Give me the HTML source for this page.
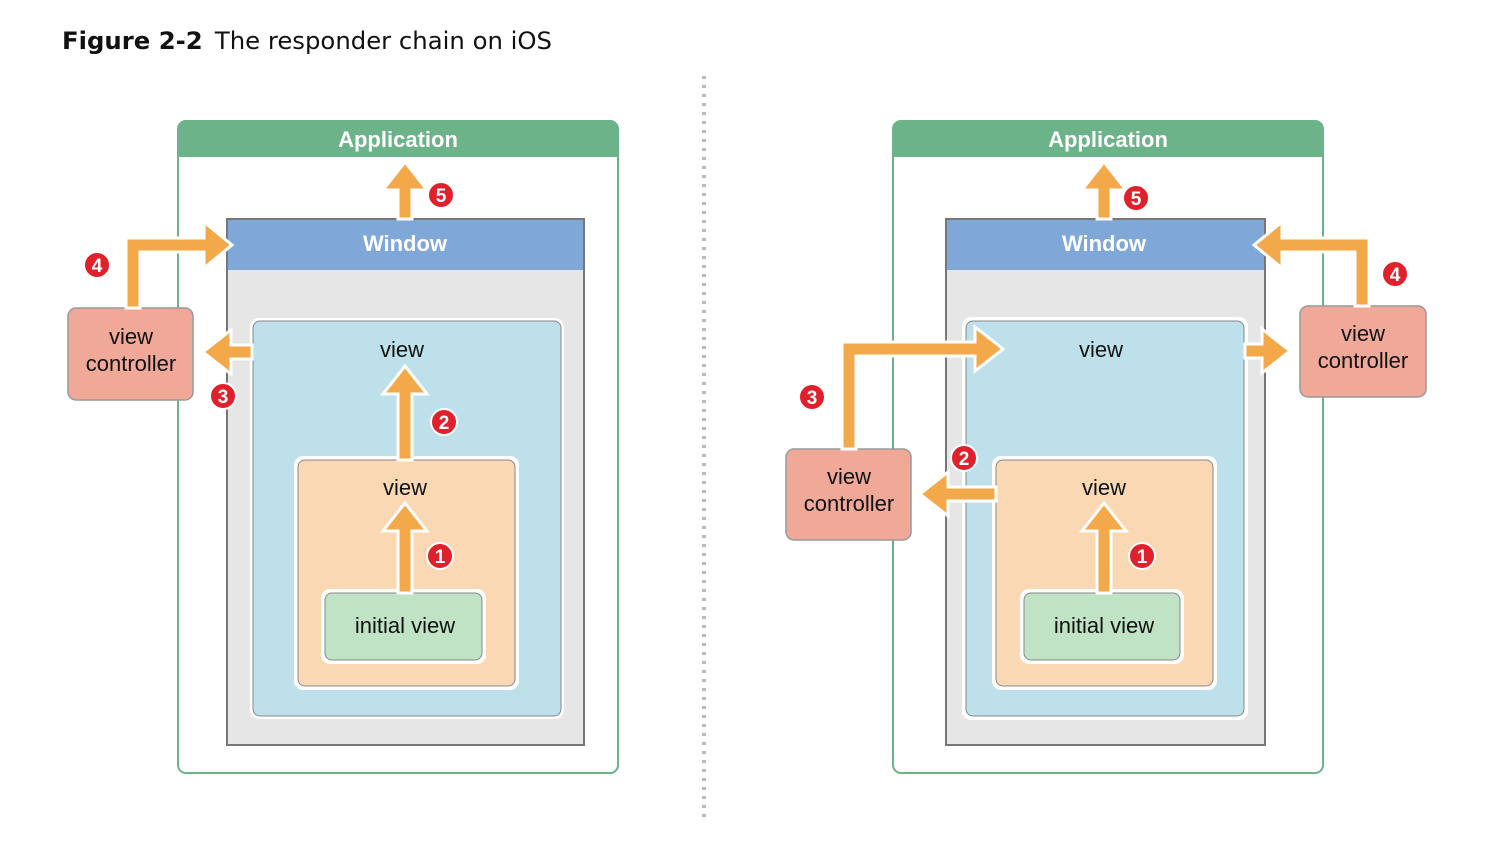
<!DOCTYPE html>
<html><head><meta charset="utf-8"><style>
body{margin:0;background:#fff;}
svg{display:block;font-family:"Liberation Sans",sans-serif;}
</style></head><body>
<svg width="1500" height="855" viewBox="0 0 1500 855" xmlns="http://www.w3.org/2000/svg">
<text x="62" y="49" font-size="24" font-family="DejaVu Sans, sans-serif" fill="#111" textLength="490" lengthAdjust="spacingAndGlyphs"><tspan font-weight="bold">Figure 2-2</tspan><tspan dx="12">The responder chain on iOS</tspan></text>
<line x1="704" y1="76" x2="704" y2="820" stroke="#bbb" stroke-width="4" stroke-dasharray="3,6"/>

<!-- LEFT -->
<rect x="178" y="121" width="440" height="652" rx="8" fill="#fff" stroke="#6db38a" stroke-width="2"/>
<path d="M178,157 V129 a8,8 0 0 1 8,-8 H610 a8,8 0 0 1 8,8 V157 Z" fill="#6db38a"/>
<text x="398" y="147" font-size="22" font-weight="bold" fill="#fff" text-anchor="middle">Application</text>
<rect x="227" y="219" width="357" height="526" fill="#e6e6e6" stroke="#777" stroke-width="2"/>
<rect x="228" y="220" width="355" height="50" fill="#7fa8d8"/>
<text x="405" y="251" font-size="22" font-weight="bold" fill="#fff" text-anchor="middle">Window</text>
<rect x="250" y="318" width="314" height="401" rx="9" fill="#fff"/>
<rect x="253" y="321" width="308" height="395" rx="7" fill="#bde0ea" stroke="#888" stroke-width="1"/>
<text x="402" y="357" font-size="22" fill="#111" text-anchor="middle">view</text>
<rect x="294" y="456" width="225" height="234" rx="9" fill="#fff"/>
<rect x="298" y="460" width="217" height="226" rx="7" fill="#fad8b4" stroke="#888" stroke-width="1"/>
<text x="405" y="495" font-size="22" fill="#111" text-anchor="middle">view</text>
<rect x="321" y="589" width="165" height="75" rx="9" fill="#fff"/>
<rect x="325" y="593" width="157" height="67" rx="7" fill="#bfe3c4" stroke="#888" stroke-width="1"/>
<text x="405" y="633" font-size="22" fill="#111" text-anchor="middle">initial view</text>
<rect x="68" y="308" width="125" height="92" rx="8" fill="#f0a898" stroke="#999" stroke-width="1.5"/>
<text x="131" y="344" font-size="22" fill="#111" text-anchor="middle">view</text>
<text x="131" y="371" font-size="22" fill="#111" text-anchor="middle">controller</text>

<g fill="#f3a84a" stroke="#fff" stroke-width="3" stroke-linejoin="miter">
<polygon points="398,219 398,190 383,190 405,162 427,190 412,190 412,219"/>
<polygon points="398,460 398,394 383,394 405,366 427,394 412,394 412,460"/>
<polygon points="398,593 398,531 383,531 405,503 427,531 412,531 412,593"/>
<polygon points="126,308 126,238 204,238 204,222 232,245 204,268 204,252 140,252 140,308"/>
<polygon points="252,345 231,345 231,330 203,352 231,374 231,359 252,359"/>
</g>

<!-- RIGHT -->
<rect x="893" y="121" width="430" height="652" rx="8" fill="#fff" stroke="#6db38a" stroke-width="2"/>
<path d="M893,157 V129 a8,8 0 0 1 8,-8 H1315 a8,8 0 0 1 8,8 V157 Z" fill="#6db38a"/>
<text x="1108" y="147" font-size="22" font-weight="bold" fill="#fff" text-anchor="middle">Application</text>
<rect x="946" y="219" width="319" height="526" fill="#e6e6e6" stroke="#777" stroke-width="2"/>
<rect x="947" y="220" width="317" height="50" fill="#7fa8d8"/>
<text x="1104" y="251" font-size="22" font-weight="bold" fill="#fff" text-anchor="middle">Window</text>
<rect x="962" y="317" width="286" height="403" rx="9" fill="#fff"/>
<rect x="966" y="321" width="278" height="395" rx="7" fill="#bde0ea" stroke="#888" stroke-width="1"/>
<text x="1101" y="357" font-size="22" fill="#111" text-anchor="middle">view</text>
<rect x="992" y="456" width="225" height="234" rx="9" fill="#fff"/>
<rect x="996" y="460" width="217" height="226" rx="7" fill="#fad8b4" stroke="#888" stroke-width="1"/>
<text x="1104" y="495" font-size="22" fill="#111" text-anchor="middle">view</text>
<rect x="1020" y="589" width="164" height="75" rx="9" fill="#fff"/>
<rect x="1024" y="593" width="156" height="67" rx="7" fill="#bfe3c4" stroke="#888" stroke-width="1"/>
<text x="1104" y="633" font-size="22" fill="#111" text-anchor="middle">initial view</text>
<rect x="1300" y="306" width="126" height="91" rx="8" fill="#f0a898" stroke="#999" stroke-width="1.5"/>
<text x="1363" y="341" font-size="22" fill="#111" text-anchor="middle">view</text>
<text x="1363" y="368" font-size="22" fill="#111" text-anchor="middle">controller</text>
<rect x="786" y="449" width="125" height="91" rx="8" fill="#f0a898" stroke="#999" stroke-width="1.5"/>
<text x="849" y="484" font-size="22" fill="#111" text-anchor="middle">view</text>
<text x="849" y="511" font-size="22" fill="#111" text-anchor="middle">controller</text>

<g fill="#f3a84a" stroke="#fff" stroke-width="3">
<polygon points="1097,219 1097,190 1082,190 1104,162 1126,190 1111,190 1111,219"/>
<polygon points="1097,593 1097,531 1082,531 1104,503 1126,531 1111,531 1111,593"/>
<polygon points="1369,306 1369,238 1282,238 1282,222 1254,245 1282,268 1282,252 1355,252 1355,306"/>
<polygon points="842,449 842,342 975,342 975,327 1003,349 975,371 975,356 856,356 856,449"/>
<polygon points="1245,344 1262,344 1262,329 1290,351 1262,373 1262,358 1245,358"/>
<polygon points="996,487 948,487 948,472 920,494 948,516 948,501 996,501"/>
</g>

<!-- badges -->
<g fill="#e0202a" stroke="#fff" stroke-width="2">
<circle cx="441" cy="195" r="13"/><circle cx="97" cy="265" r="13"/><circle cx="223" cy="396" r="13"/><circle cx="444" cy="422" r="13"/><circle cx="440" cy="556" r="13"/>
<circle cx="1136" cy="198" r="13"/><circle cx="1395" cy="274" r="13"/><circle cx="812" cy="397" r="13"/><circle cx="964" cy="458" r="13"/><circle cx="1142" cy="556" r="13"/>
</g>
<g fill="#fff" font-size="19" font-weight="bold" text-anchor="middle">
<text x="441" y="202">5</text><text x="97" y="272">4</text><text x="223" y="403">3</text><text x="444" y="429">2</text><text x="440" y="563">1</text>
<text x="1136" y="205">5</text><text x="1395" y="281">4</text><text x="812" y="404">3</text><text x="964" y="465">2</text><text x="1142" y="563">1</text>
</g>
</svg>
</body></html>
